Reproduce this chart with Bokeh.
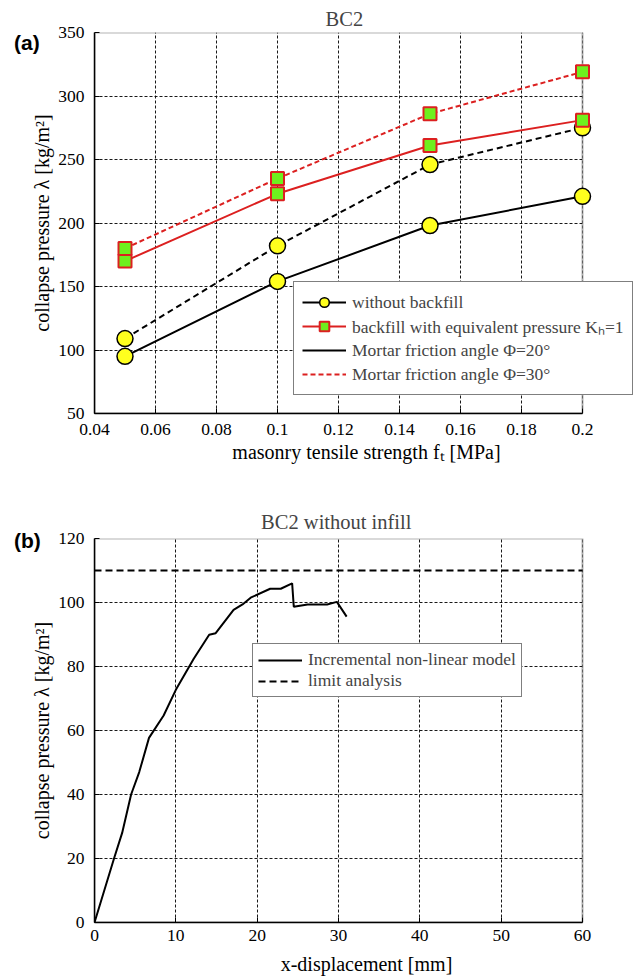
from bokeh.plotting import figure
from bokeh.layouts import column
from bokeh.models import Range1d, FixedTicker, Legend, LegendItem, BoxAnnotation, Div
from bokeh.embed import file_html
from bokeh.resources import INLINE

# ---------------- data: panel (a) ----------------
tensile_strength = [0.05, 0.10, 0.15, 0.20]
no_backfill_phi20 = [95, 154, 198, 221]
no_backfill_phi30 = [109, 182, 246, 275]
backfill_phi20 = [170, 223, 261, 281]
backfill_phi30 = [180, 235, 286, 319]
a_xticks = [0.04, 0.06, 0.08, 0.10, 0.12, 0.14, 0.16, 0.18, 0.20]
a_xtick_labels = ["0.04", "0.06", "0.08", "0.1", "0.12", "0.14", "0.16", "0.18", "0.2"]
a_yticks = [50, 100, 150, 200, 250, 300, 350]

# ---------------- data: panel (b) ----------------
displacement_mm = [0, 2.4, 3.4, 4.5, 5.5, 6.7, 8.5, 10.0, 12.2, 14.1, 14.9, 17.1,
                   18.2, 19.2, 21.6, 22.9, 24.3, 24.5, 26.2, 28.6, 29.8, 31.0]
pressure_incremental = [0, 20, 28, 40, 47, 57.7, 64.7, 72.7, 82.4, 89.9, 90.4, 97.7,
                        99.4, 101.5, 104.3, 104.3, 106, 98.7, 99.4, 99.4, 100.2, 95.6]
limit_pressure = 110
b_xticks = [0, 10, 20, 30, 40, 50, 60]
b_yticks = [0, 20, 40, 60, 80, 100, 120]

SERIF = "Liberation Serif"
RED = "#dc2020"
YELLOW = "#ffff1e"
GREEN = "#6ef01e"

W = 638
LEFT = 94          # frame left edge (px)
AXES_RIGHT = 582   # right edge of the drawn axes box (px)


def make_axes(xticks, yticks, height, border_top, border_bottom, xlabel, ylabel, title,
              xlabels=None):
    """Frame reaches the canvas' right edge (so a legend may overhang the axes box);
    the visible axes box is drawn up to the last x tick."""
    x0, x1 = xticks[0], xticks[-1]
    x_end = x0 + (x1 - x0) * (W - LEFT) / (AXES_RIGHT - LEFT)
    p = figure(width=W, height=height, x_range=Range1d(x0, x_end),
               y_range=Range1d(yticks[0], yticks[-1]),
               output_backend="svg", toolbar_location=None,
               min_border_left=LEFT, min_border_right=0,
               min_border_top=border_top, min_border_bottom=border_bottom,
               x_axis_label=xlabel, y_axis_label=ylabel)
    p.xaxis.ticker = FixedTicker(ticks=xticks)
    p.yaxis.ticker = FixedTicker(ticks=yticks)
    p.xaxis.bounds = (x0, x1)
    if xlabels is not None:
        p.xaxis.major_label_overrides = {t: l for t, l in zip(xticks, xlabels)}
    for ax in (p.xaxis, p.yaxis):
        ax.axis_line_color = "black"
        ax.axis_line_width = 1.5
        ax.major_tick_in = 5
        ax.major_tick_out = 0
        ax.major_tick_line_color = "black"
        ax.minor_tick_line_color = None
        ax.major_label_text_font = SERIF
        ax.major_label_text_font_size = "17.5px"
        ax.major_label_text_color = "black"
        ax.axis_label_text_font = SERIF
        ax.axis_label_text_font_size = "20px"
        ax.axis_label_text_font_style = "normal"
        ax.axis_label_text_color = "black"
    p.yaxis.major_label_standoff = 10
    p.yaxis.axis_label_standoff = 2
    p.xaxis.major_label_standoff = 10
    p.xaxis.axis_label_standoff = 3
    p.grid.grid_line_color = "black"
    p.grid.grid_line_dash = "3 2"
    p.grid.grid_line_width = 1
    p.grid.grid_line_alpha = 0.9
    p.outline_line_color = None
    p.title.text = title
    p.title.text_font = SERIF
    p.title.text_font_size = "20.5px"
    p.title.text_font_style = "normal"
    p.title.align = "left"
    p.title.offset = (AXES_RIGHT - LEFT) / 2 - 4.3 * len(title)
    p.title.standoff = 5
    p.background_fill_color = "white"
    p.border_fill_color = "white"
    # hide grid beyond the axes box, then draw the box itself
    p.add_layout(BoxAnnotation(left=x1, fill_color="white", fill_alpha=1, line_color=None,
                               level="underlay"))
    p.add_layout(BoxAnnotation(left=x0, right=x1, bottom=yticks[0], top=yticks[-1],
                               fill_color=None, line_color="black", line_width=2, level="underlay"))
    return p


def style_legend(leg, glyph_h, pad):
    leg.label_text_font = SERIF
    leg.label_text_font_size = "17.5px"
    leg.glyph_width = 44
    leg.glyph_height = glyph_h
    leg.label_height = 20
    leg.spacing = 0
    leg.padding = pad
    leg.label_standoff = 6
    leg.border_line_color = "black"
    leg.border_line_width = 1.2
    leg.background_fill_alpha = 1


def panel_tag(text, left, top):
    return Div(text=text, width=40, height=24,
               styles={"position": "absolute", "left": f"{left}px", "top": f"{top}px",
                       "font-family": "Liberation Sans, Arial, sans-serif", "font-size": "21px",
                       "font-weight": "bold", "line-height": "22px", "color": "black",
                       "margin": "0", "padding": "0", "z-index": "10"})


# ---------------- panel (a) ----------------
pa = make_axes(a_xticks, a_yticks, 480, 32, 67,
               "masonry tensile strength fₜ [MPa]", "collapse pressure λ [kg/m²]", "BC2",
               a_xtick_labels)

r_nb30 = pa.line(tensile_strength, no_backfill_phi30, line_color="black", line_width=2, line_dash="6 4")
r_nb20 = pa.line(tensile_strength, no_backfill_phi20, line_color="black", line_width=2)
r_bf20 = pa.line(tensile_strength, backfill_phi20, line_color=RED, line_width=2)
r_bf30 = pa.line(tensile_strength, backfill_phi30, line_color=RED, line_width=2, line_dash="5 3")
m_nb20 = pa.scatter(tensile_strength, no_backfill_phi20, marker="circle", size=16,
                    fill_color=YELLOW, line_color="black", line_width=1.5)
m_nb30 = pa.scatter(tensile_strength, no_backfill_phi30, marker="circle", size=16,
                    fill_color=YELLOW, line_color="black", line_width=1.5)
m_bf20 = pa.scatter(tensile_strength, backfill_phi20, marker="square", size=13,
                    fill_color=GREEN, line_color=RED, line_width=2)
m_bf30 = pa.scatter(tensile_strength, backfill_phi30, marker="square", size=13,
                    fill_color=GREEN, line_color=RED, line_width=2)

leg_a = Legend(items=[
    LegendItem(label="without backfill", renderers=[r_nb20, m_nb20]),
    LegendItem(label="backfill with equivalent pressure Kₕ=1", renderers=[r_bf20, m_bf20]),
    LegendItem(label="Mortar friction angle Φ=20°", renderers=[r_nb20]),
    LegendItem(label="Mortar friction angle Φ=30°", renderers=[r_bf30]),
], location=(199, 18))
style_legend(leg_a, 24, 8)
pa.add_layout(leg_a)

# ---------------- panel (b) ----------------
pb = make_axes(b_xticks, b_yticks, 498, 58, 56,
               "x-displacement [mm]", "collapse pressure λ [kg/m²]", "BC2 without infill")
pb.title.standoff = 12
pb.xaxis.major_label_standoff = 7
pb.xaxis.axis_label_standoff = 9

r_inc = pb.line(displacement_mm, pressure_incremental, line_color="black", line_width=2)
r_lim = pb.line([b_xticks[0], b_xticks[-1]], [limit_pressure, limit_pressure],
                line_color="black", line_width=2, line_dash="7 4")

leg_b = Legend(items=[
    LegendItem(label="Incremental non-linear model", renderers=[r_inc]),
    LegendItem(label="limit analysis", renderers=[r_lim]),
], location=(158, 225))
style_legend(leg_b, 20, 5)
pb.add_layout(leg_b)

layout = column(pa, pb, panel_tag("(a)", 14, 32), panel_tag("(b)", 14, 530), spacing=0)
open("out.html", "w").write(file_html(layout, INLINE))
